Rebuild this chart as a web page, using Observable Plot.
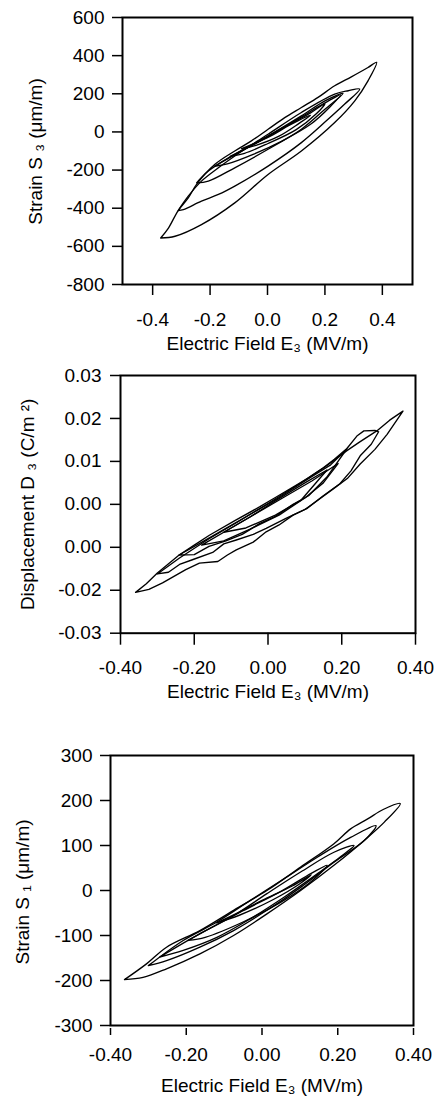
<!DOCTYPE html>
<html><head><meta charset="utf-8">
<script src="https://cdn.jsdelivr.net/npm/d3@7"></script>
<script src="https://cdn.jsdelivr.net/npm/@observablehq/plot@0.6"></script>
<style>
body{margin:0;background:#fff;}
#wrap{position:relative;width:445px;height:1114px;overflow:hidden;background:#fff;}
#wrap svg{position:absolute;left:0;}
</style></head><body><div id="wrap"></div>
<script>
// ---------- Panel 1: Strain S3 (µm/m) vs Electric field E3 (MV/m) ----------
const s3Loop1 = [[-0.372,-556],[-0.322,-547],[-0.230,-486],[-0.114,-372],[0.002,-223],[0.118,-100],[0.234,49],[0.304,163],[0.350,268],[0.380,365],
  [0.350,338],[0.292,289],[0.234,242],[0.176,181],[0.118,128],[0.060,75],[0.002,14],[-0.056,-47],[-0.114,-100],[-0.183,-170],[-0.247,-275],[-0.276,-346],[-0.311,-412],[-0.345,-504],[-0.372,-556]];
const s3Loop2 = [[-0.311,-412],[-0.293,-407],[-0.230,-363],[-0.171,-328],[-0.114,-284],[0.002,-179],[0.118,-56],[0.205,58],[0.269,146],[0.321,225],
  [0.281,216],[0.234,198],[0.118,102],[0.002,-12],[-0.114,-126],[-0.171,-188],[-0.230,-258],[-0.276,-337],[-0.311,-412]];
const s3Loop3 = [[-0.247,-267],[-0.206,-258],[-0.114,-188],[0.002,-91],[0.118,14],[0.200,119],[0.263,202],
  [0.200,163],[0.118,84],[0.002,-21],[-0.114,-117],[-0.206,-205],[-0.247,-267]];
const s3Loop4 = [[-0.185,-180],[-0.140,-168],[-0.050,-118],[0.050,-48],[0.150,40],[0.220,135],[0.255,195],
  [0.200,152],[0.100,62],[0.000,-25],[-0.100,-108],[-0.185,-180]];
const s3Loop5 = [[-0.130,-128],[-0.080,-112],[0.000,-62],[0.100,12],[0.170,95],[0.200,148],
  [0.150,100],[0.050,18],[-0.050,-68],[-0.130,-128]];
const s3Loop6 = [[-0.090,-88],[-0.040,-70],[0.040,-22],[0.110,45],[0.150,88],
  [0.080,38],[0.000,-30],[-0.090,-88]];
const s3YTicks = [600,400,200,0,-200,-400,-600,-800];
const s3YLabels = ["600","400","200","0","-200","-400","-600","-800"];
const s3XTicks = [-0.4,-0.2,0,0.2,0.4];
const s3XLabels = ["-0.4","-0.2","0.0","0.2","0.4"];

// ---------- Panel 2: Displacement D3 (C/m²) ----------
const dLoop1 = [[-0.359,-0.0205],[-0.323,-0.0198],[-0.286,-0.0183],[-0.223,-0.0152],[-0.186,-0.0137],[-0.136,-0.0133],[-0.110,-0.0118],[-0.086,-0.0106],[-0.040,-0.0088],[-0.005,-0.0064],[0.030,-0.0048],[0.068,-0.0025],[0.100,-0.0012],[0.123,0.0002],[0.177,0.0036],[0.215,0.0060],[0.250,0.0094],[0.290,0.0128],[0.323,0.0163],[0.366,0.0217],
  [0.330,0.0196],[0.295,0.0171],[0.250,0.0146],[0.214,0.0125],[0.159,0.0090],[0.110,0.0062],[0.068,0.0040],[0.020,0.0016],[-0.023,-0.0006],[-0.090,-0.0038],[-0.159,-0.0072],[-0.200,-0.0095],[-0.241,-0.0118],[-0.300,-0.0160],[-0.330,-0.0185],[-0.359,-0.0205]];
const dLoop2 = [[-0.300,-0.0162],[-0.270,-0.0158],[-0.240,-0.0140],[-0.205,-0.0129],[-0.150,-0.0112],[-0.120,-0.0092],[-0.086,-0.0083],[-0.040,-0.0070],[-0.005,-0.0056],[0.050,-0.0032],[0.105,-0.0010],[0.150,0.0020],[0.195,0.0048],[0.225,0.0078],[0.250,0.0113],[0.280,0.0140],[0.300,0.0169],
  [0.290,0.0172],[0.260,0.0171],[0.241,0.0159],[0.214,0.0130],[0.180,0.0105],[0.150,0.0085],[0.080,0.0045],[0.000,0.0002],[-0.080,-0.0040],[-0.160,-0.0080],[-0.240,-0.0125],[-0.300,-0.0162]];
const dLoop3 = [[-0.241,-0.0118],[-0.200,-0.0117],[-0.160,-0.0098],[-0.114,-0.0085],[-0.070,-0.0070],[-0.023,-0.0045],[0.020,-0.0028],[0.068,0.0000],[0.110,0.0020],[0.159,0.0063],[0.214,0.0129],
  [0.170,0.0092],[0.114,0.0062],[0.023,0.0012],[-0.068,-0.0033],[-0.159,-0.0078],[-0.241,-0.0118]];
const dLoop4 = [[-0.180,-0.0095],[-0.120,-0.0085],[-0.050,-0.0058],[0.030,-0.0025],[0.100,0.0015],[0.150,0.0050],[0.190,0.0095],
  [0.120,0.0055],[0.050,0.0020],[-0.030,-0.0020],[-0.100,-0.0055],[-0.180,-0.0095]];
const dLoop5 = [[-0.120,-0.0065],[-0.060,-0.0055],[0.020,-0.0025],[0.090,0.0010],[0.160,0.0080],
  [0.100,0.0050],[0.020,0.0008],[-0.050,-0.0030],[-0.120,-0.0065]];
const dYTicks = [0.03,0.02,0.01,0,-0.01,-0.02,-0.03];
const dYLabels = ["0.03","0.02","0.01","0.00","0.00","-0.02","-0.03"];
const eXTicks = [-0.4,-0.2,0,0.2,0.4];
const eXLabels = ["-0.40","-0.20","0.00","0.20","0.40"];

// ---------- Panel 3: Strain S1 (µm/m) ----------
const s1Loop1 = [[-0.363,-198],[-0.314,-193],[-0.252,-174],[-0.164,-141],[-0.075,-100],[0.013,-52],[0.102,0],[0.190,56],[0.279,118],[0.323,152],[0.365,193],
  [0.320,180],[0.279,159],[0.234,137],[0.190,104],[0.102,52],[0.013,0],[-0.075,-44],[-0.164,-89],[-0.252,-126],[-0.305,-163],[-0.363,-198]];
const s1Loop2 = [[-0.300,-167],[-0.252,-156],[-0.164,-126],[-0.075,-89],[0.013,-44],[0.102,7],[0.190,63],[0.270,111],[0.301,144],
  [0.234,118],[0.146,74],[0.058,26],[-0.031,-22],[-0.119,-70],[-0.208,-111],[-0.300,-167]];
const s1Loop3 = [[-0.270,-148],[-0.208,-133],[-0.119,-104],[-0.031,-63],[0.058,-15],[0.146,37],[0.217,81],[0.243,100],
  [0.190,85],[0.102,41],[0.013,-7],[-0.075,-56],[-0.164,-96],[-0.270,-148]];
const s1Loop4 = [[-0.195,-111],[-0.150,-104],[-0.050,-70],[0.050,-26],[0.130,20],[0.172,56],
  [0.130,38],[0.050,-2],[-0.050,-45],[-0.150,-90],[-0.195,-111]];
const s1Loop5 = [[-0.120,-72],[-0.060,-55],[0.030,-20],[0.100,15],[0.130,35],
  [0.080,10],[0.000,-22],[-0.060,-48],[-0.120,-72]];
const s1YTicks = [300,200,100,0,-100,-200,-300];
const s1YLabels = ["300","200","100","0","-100","-200","-300"];

const xTitle = "Electric Field E\u2083 (MV/m)";

const wrap = document.getElementById("wrap");
function toRows(loops){ return loops.flatMap((pts,k)=>pts.map(([e,v])=>({loop:k,e,v}))); }

function panel(c){
  const yfmt = new Map(c.yTicks.map((t,i)=>[t,c.yLabels[i]]));
  const xfmt = new Map(c.xTicks.map((t,i)=>[t,c.xLabels[i]]));
  const svg = Plot.plot({
    width:445, height:c.height,
    marginLeft:c.ml, marginRight:c.mr, marginTop:c.mt, marginBottom:c.mb,
    style:{fontFamily:"'Liberation Sans', Arial, sans-serif", fontSize:"19px", background:"transparent", color:"#000", overflow:"visible"},
    x:{domain:c.xDomain},
    y:{domain:c.yDomain, insetBottom:c.inset},
    marks:[
      Plot.line(toRows(c.loops), {x:"e", y:"v", z:"loop", stroke:"#000", strokeWidth:1.35, curve:c.curve}),
      Plot.frame({stroke:"#000", strokeWidth:2, insetBottom:c.inset}),
      Plot.axisX({ticks:c.xTicks, tickFormat:d=>xfmt.get(d), tickSize:c.xts, tickPadding:c.xtp, strokeWidth:1.5,
        fontSize:19, label:xTitle, labelAnchor:"center", labelOffset:c.xlo, labelArrow:"none"}),
      Plot.axisY({ticks:c.yTicks, tickFormat:d=>yfmt.get(d), tickSize:c.yts, tickPadding:c.ytp, strokeWidth:1.5,
        fontSize:19, label:c.yTitle, labelAnchor:"center", labelOffset:c.ylo, labelArrow:"none"})
    ]
  });
  svg.style.top = c.top + "px";
  wrap.appendChild(svg);
}

panel({top:0, height:372, ml:122, mr:33, mt:17, mb:87, inset:1,
  xDomain:[-0.505,0.505], yDomain:[-800,600],
  xTicks:s3XTicks, xLabels:s3XLabels, yTicks:s3YTicks, yLabels:s3YLabels,
  xts:10, xtp:17, xlo:64, yts:10, ytp:8, ylo:94,
  yTitle:"Strain S \u2083 (\u03bcm/m)", curve:"catmull-rom",
  loops:[s3Loop1,s3Loop2,s3Loop3,s3Loop4,s3Loop5,s3Loop6]});

panel({top:360, height:360, ml:120, mr:30, mt:15, mb:87.3, inset:0,
  xDomain:[-0.4,0.4], yDomain:[-0.03,0.03],
  xTicks:eXTicks, xLabels:eXLabels, yTicks:dYTicks, yLabels:dYLabels,
  xts:12, xtp:15, xlo:65, yts:10, ytp:9, ylo:100,
  yTitle:"Displacement D \u2083 (C/m \u00b2)", curve:"linear",
  loops:[dLoop1,dLoop2,dLoop3,dLoop4,dLoop5]});

panel({top:720, height:394, ml:110, mr:32, mt:35, mb:86, inset:3,
  xDomain:[-0.4,0.4], yDomain:[-300,300],
  xTicks:eXTicks, xLabels:eXLabels, yTicks:s1YTicks, yLabels:s1YLabels,
  xts:7, xtp:12, xlo:63, yts:10, ytp:8, ylo:95,
  yTitle:"Strain S \u2081 (\u03bcm/m)", curve:"catmull-rom",
  loops:[s1Loop1,s1Loop2,s1Loop3,s1Loop4,s1Loop5]});
</script></body></html>
